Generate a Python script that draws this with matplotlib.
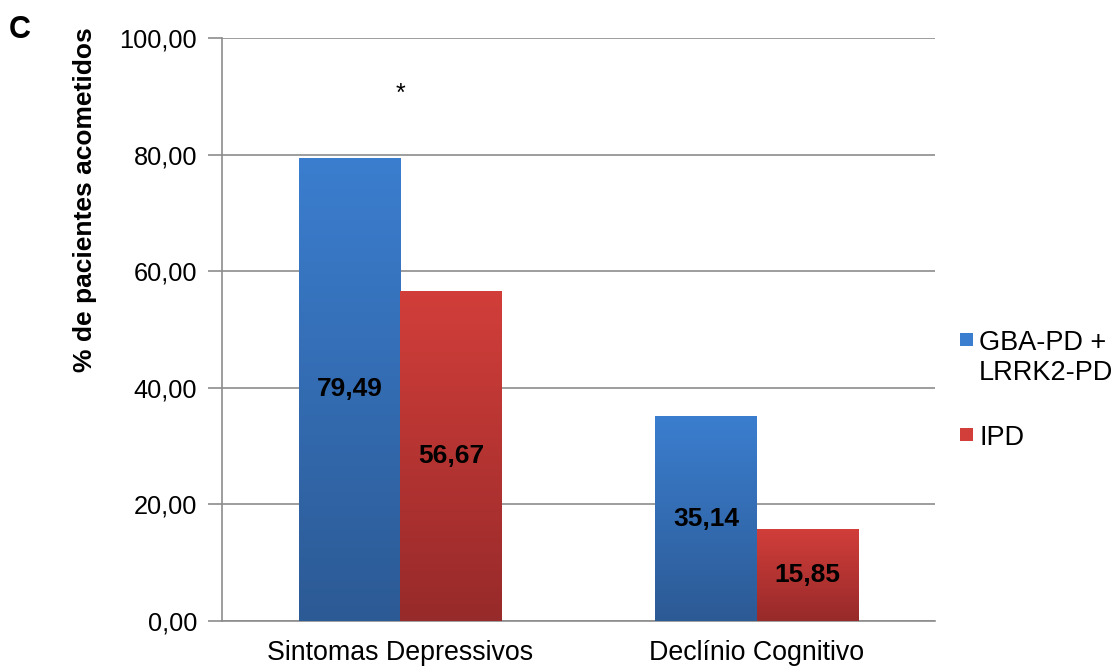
import numpy as np
import matplotlib
matplotlib.use("Agg")
import matplotlib.pyplot as plt
from matplotlib.colors import LinearSegmentedColormap
from matplotlib.patches import Rectangle

plt.rcParams['font.family'] = ['Liberation Sans', 'DejaVu Sans']

categories = ["Sintomas Depressivos", "Declínio Cognitivo"]
series_names = ["GBA-PD +\nLRRK2-PD", "IPD"]
gba_lrrk2 = [79.49, 35.14]
ipd = [56.67, 15.85]
value_labels = [["79,49", "35,14"], ["56,67", "15,85"]]
yticks = [0, 20, 40, 60, 80, 100]
ytick_labels = ["0,00", "20,00", "40,00", "60,00", "80,00", "100,00"]
significance = ["*", ""]
significance_y = 90.5

# gradient colours (top, bottom) per series
blue_top, blue_bottom = "#3b7ecf", "#2c5a95"
red_top, red_bottom = "#d23e3a", "#972a2a"

W, H = 1118, 666
fig = plt.figure(figsize=(W / 100, H / 100), dpi=100)
ax = fig.add_axes([222 / W, 1 - 621 / H, (935 - 222) / W, (621 - 38) / H])

x = np.arange(len(categories))
width = 0.285
series = [(gba_lrrk2, -width / 2, blue_top, blue_bottom),
          (ipd, width / 2, red_top, red_bottom)]

ax.set_xlim(-0.5, len(categories) - 0.5)
ax.set_ylim(0, 100)

grad = np.linspace(0, 1, 256).reshape(-1, 1)
for si, (vals, off, ctop, cbot) in enumerate(series):
    bars = ax.bar(x + off, vals, width, color="none", edgecolor="none", zorder=3)
    cmap = LinearSegmentedColormap.from_list(f"g{si}", [cbot, ctop])
    for bi, b in enumerate(bars):
        x0, y0 = b.get_x(), b.get_y()
        w, h = b.get_width(), b.get_height()
        im = ax.imshow(grad, cmap=cmap, aspect="auto", origin="lower",
                       extent=[x0, x0 + w, y0, y0 + h], zorder=3,
                       interpolation="bicubic")
        im.set_clip_path(b)
        ax.text(x0 + w / 2, h / 2, value_labels[si][bi], ha="center",
                va="center", fontsize=19, fontweight="bold", color="black",
                zorder=5)

for i, s in enumerate(significance):
    if s:
        ax.text(x[i], significance_y, s, ha="center", va="center",
                fontsize=18, color="black")

ax.set_yticks(yticks)
ax.set_yticklabels(ytick_labels, fontsize=18.3)
ax.set_xticks(x)
ax.set_xticklabels(categories, fontsize=19.3)
ax.tick_params(axis="x", length=0, pad=14)
ax.tick_params(axis="y", length=10, color="#8c8c8c", width=1.2, pad=8)

ax.grid(axis="y", color="#8c8c8c", linewidth=1.2, zorder=0)
ax.set_axisbelow(True)
for side in ["top", "right"]:
    ax.spines[side].set_visible(False)
for side in ["left", "bottom"]:
    ax.spines[side].set_color("#8c8c8c")
    ax.spines[side].set_linewidth(1.2)

fig.text(85 / W, 1 - 200 / H, "% de pacientes acometidos", rotation=90,
         ha="center", va="center", fontsize=19, fontweight="bold")
fig.text(9 / W, 1 - 38 / H, "C", ha="left", va="baseline", fontsize=22,
         fontweight="bold")

# legend: colour square followed by the series name, one baseline per line
legend_items = [(series_names[0], blue_top, [350, 380]),
                (series_names[1], red_top, [445])]
for name, color, baselines in legend_items:
    sq_top = baselines[0] - 17
    fig.patches.append(Rectangle((960 / W, 1 - (sq_top + 13) / H), 13 / W, 13 / H,
                                 transform=fig.transFigure,
                                 facecolor=color, edgecolor="none"))
    for line, base in zip(name.split("\n"), baselines):
        fig.text(979 / W, 1 - base / H, line, ha="left", va="baseline",
                 fontsize=19.5)

fig.savefig("out.png", dpi=100)
